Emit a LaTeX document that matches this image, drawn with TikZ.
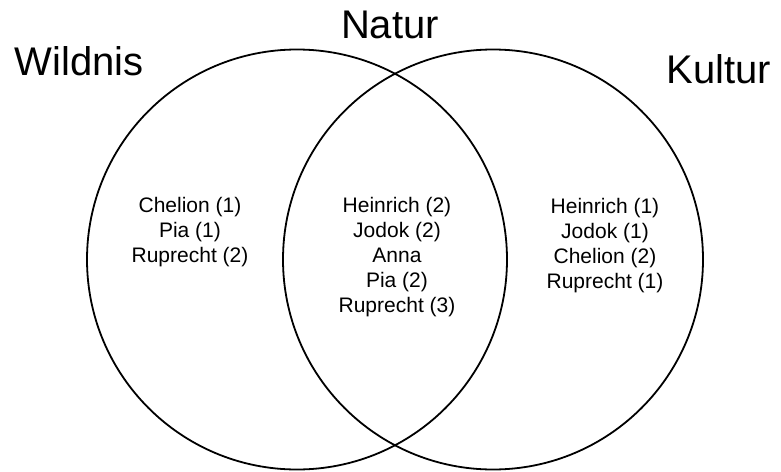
\documentclass[tikz,border=0pt]{standalone}
\usepackage{fontspec}
\setmainfont{Liberation Sans}
\begin{document}
\begin{tikzpicture}[x=1pt,y=-1pt,
  setline/.style={draw=black,line width=1.8pt},
  biglabel/.style={font=\fontsize{40}{46}\selectfont,inner sep=0pt},
  names/.style={font=\fontsize{21}{25}\selectfont,align=center,inner sep=0pt}]
\useasboundingbox (0,0) rectangle (781,471);
\draw[setline] (297,259.5) circle [radius=210];
\draw[setline] (493,259.5) circle [radius=210];
\node[biglabel] (natur) at (390,24.5) {Natur};
\node[biglabel] (wildnis) at (79,61.5) {Wildnis};
\node[biglabel] (kultur) at (719,69) {Kultur};
\node[names] (left) at (190,232) {Chelion (1)\\Pia (1)\\Ruprecht (2)};
\node[names] (mid) at (397,257) {Heinrich (2)\\Jodok (2)\\Anna\\Pia (2)\\Ruprecht (3)};
\node[names] (right) at (605,245.5) {Heinrich (1)\\Jodok (1)\\Chelion (2)\\Ruprecht (1)};
\end{tikzpicture}
\end{document}
